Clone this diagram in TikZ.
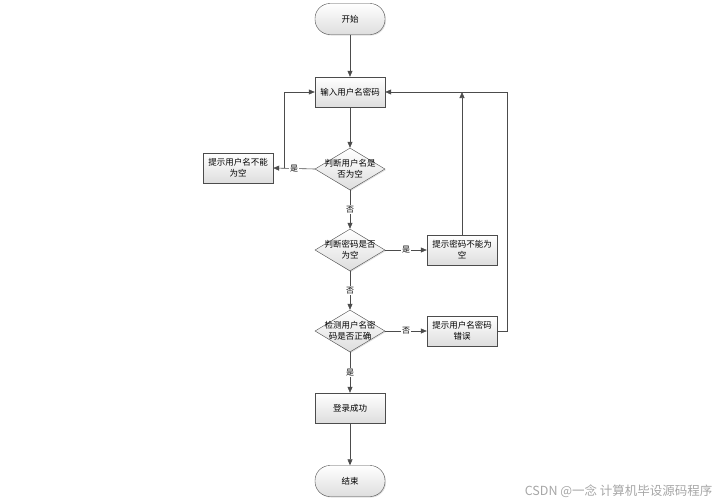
\documentclass[tikz,border=0pt]{standalone}
\usepackage{fontspec}
\setmainfont{Noto Sans CJK SC}
\usetikzlibrary{positioning,arrows.meta,shapes.geometric,shadows}

\tikzset{
  box/.style={rectangle, draw=black!70, top color=white, bottom color=black!13,
    minimum width=70pt, minimum height=30pt, inner sep=1pt, align=center,
    font=\fontsize{8.5}{11}\selectfont,
    drop shadow={opacity=0.25, shadow xshift=1pt, shadow yshift=-1pt}},
  term/.style={box, rounded corners=15pt, minimum height=31pt},
  decision/.style={diamond, draw=black!70, top color=white, bottom color=black!13,
    minimum width=70pt, minimum height=42pt, inner sep=0pt,
    drop shadow={opacity=0.25, shadow xshift=1pt, shadow yshift=-1pt}},
  dtext/.style={align=center, font=\fontsize{8.5}{11}\selectfont},
  arr/.style={draw=black!70, line width=0.6pt, -{Triangle[length=6pt,width=5pt]}},
  lbl/.style={fill=white, inner sep=1pt, font=\fontsize{8}{9}\selectfont}
}

\begin{document}
\begin{tikzpicture}[x=1pt,y=-1pt]
  \useasboundingbox (0,0) rectangle (724,504);
  % main column
  \node[term] (start) at (350,19) {开始};
  \node[box] (input) at (350,92) {输入用户名密码};
  \node[decision, label={[dtext]center:判断用户名是\\否为空}] (chkuser) at (350,169) {};
  \node[decision, label={[dtext]center:判断密码是否\\为空}] (chkpwd) at (350,250) {};
  \node[decision, label={[dtext]center:检测用户名密\\码是否正确}] (chkboth) at (350,331) {};
  \node[box] (ok) at (350,408) {登录成功};
  \node[term] (stop) at (350,481) {结束};
  % side boxes
  \node[box] (tipuser) at (238,168) {提示用户名不能\\为空};
  \node[box] (tippwd) at (462,250) {提示密码不能为\\空};
  \node[box] (tipboth) at (462,331) {提示用户名密码\\错误};
  % joints of the loops
  \coordinate (juser) at (284,168);
  \coordinate (jpwd) at (462,92);
  \coordinate (jboth) at (507,331);
  % arrows
  \draw[arr] (start) -- (input);
  \draw[arr] (input) -- (chkuser);
  \draw[arr] (chkuser.west) -- node[lbl] {是} (tipuser.east);
  \draw[arr] (juser) |- (input.west);
  \draw[arr] (chkuser) -- node[lbl] {否} (chkpwd);
  \draw[arr] (chkpwd.east) -- node[lbl] {是} (tippwd.west);
  \draw[arr] (tippwd) -- (jpwd);
  \draw[arr] (chkpwd) -- node[lbl] {否} (chkboth);
  \draw[arr] (chkboth.east) -- node[lbl] {否} (tipboth.west);
  \draw[arr] (tipboth.east) -- (jboth) |- (input.east);
  \draw[arr] (chkboth) -- node[lbl] {是} (ok);
  \draw[arr] (ok) -- (stop);
  % watermark
  \node[anchor=east, text=black!35, font=\fontsize{12.5}{14}\selectfont] (mark) at (716,491) {CSDN @一念 计算机毕设源码程序};
\end{tikzpicture}
\end{document}
